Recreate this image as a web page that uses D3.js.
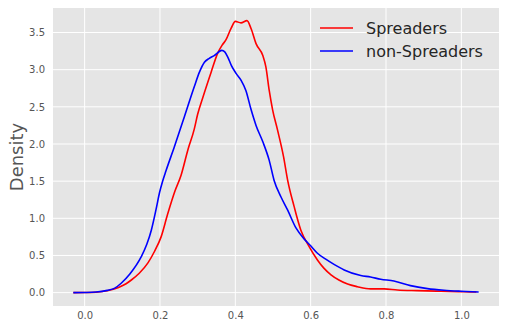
<!DOCTYPE html>
<html>
<head>
<meta charset="utf-8">
<script src="https://cdn.jsdelivr.net/npm/d3@7"></script>
<style>
  body { margin: 0; background: #fff; }
  text { font-family: "DejaVu Sans", sans-serif; }
</style>
</head>
<body>
<div id="chart"></div>
<script>
// density estimates, [value, density]
const spreaders = [
  [-0.03, 0], [0.0, 0.001], [0.03, 0.006], [0.06, 0.025], [0.09, 0.07], [0.11, 0.12],
  [0.124, 0.17], [0.145, 0.26], [0.168, 0.40], [0.185, 0.55], [0.203, 0.75], [0.22, 1.05],
  [0.24, 1.37], [0.256, 1.58], [0.274, 1.92], [0.291, 2.2], [0.30, 2.4], [0.314, 2.63],
  [0.336, 2.97], [0.353, 3.22], [0.365, 3.33], [0.375, 3.40], [0.389, 3.56], [0.40, 3.65],
  [0.415, 3.63], [0.431, 3.66], [0.442, 3.55], [0.455, 3.35], [0.473, 3.19], [0.481, 3.04],
  [0.490, 2.72], [0.499, 2.46], [0.512, 2.19], [0.528, 1.83], [0.539, 1.51], [0.556, 1.16],
  [0.574, 0.84], [0.596, 0.62], [0.618, 0.44], [0.635, 0.33], [0.654, 0.24], [0.675, 0.17],
  [0.698, 0.115], [0.724, 0.08], [0.759, 0.05], [0.795, 0.05], [0.83, 0.036], [0.883, 0.027],
  [0.945, 0.019], [1.006, 0.012], [1.04, 0.008]
]
const nonSpreaders = [
  [-0.03, 0], [0.0, 0.002], [0.03, 0.008], [0.06, 0.03], [0.08, 0.06], [0.097, 0.126],
  [0.12, 0.25], [0.15, 0.48], [0.165, 0.65], [0.177, 0.84], [0.19, 1.13], [0.199, 1.35],
  [0.207, 1.5], [0.216, 1.64], [0.238, 1.96], [0.265, 2.37], [0.291, 2.77], [0.305, 2.97],
  [0.318, 3.10], [0.33, 3.15], [0.344, 3.19], [0.364, 3.26], [0.372, 3.24], [0.380, 3.17],
  [0.390, 3.05], [0.402, 2.95], [0.415, 2.86], [0.428, 2.72], [0.442, 2.46], [0.455, 2.25],
  [0.473, 2.03], [0.490, 1.78], [0.503, 1.51], [0.521, 1.29], [0.539, 1.11], [0.561, 0.87],
  [0.583, 0.72], [0.60, 0.63], [0.618, 0.53], [0.640, 0.45], [0.662, 0.38], [0.689, 0.305],
  [0.733, 0.23], [0.759, 0.21], [0.786, 0.18], [0.821, 0.157], [0.865, 0.094], [0.91, 0.054],
  [0.954, 0.032], [0.998, 0.019], [1.046, 0.009]
]
const seriesNames = ["Spreaders", "non-Spreaders"]
const seriesColors = ["#ff0000", "#0000ff"]
const xTicks = [0.0, 0.2, 0.4, 0.6, 0.8, 1.0]
const yTicks = [0.0, 0.5, 1.0, 1.5, 2.0, 2.5, 3.0, 3.5]

let width = 505, height = 330
let margin = { left: 53, right: 6, top: 8, bottom: 24 }

let svg = d3.select("#chart")
    .append("svg")
    .attr("width", width)
    .attr("height", height)

let x = d3.scaleLinear().domain([-0.084, 1.100]).range([margin.left, width - margin.right])
let y = d3.scaleLinear().domain([-0.18, 3.83]).range([height - margin.bottom, margin.top])

//背景
svg.append("rect")
    .attr("x", margin.left)
    .attr("y", margin.top)
    .attr("width", width - margin.left - margin.right)
    .attr("height", height - margin.top - margin.bottom)
    .attr("fill", "#e5e5e5")

//网格线
let grid = svg.append("g")
grid.selectAll(".gx")
    .data(xTicks)
    .enter()
    .append("line")
    .attr("x1", d => x(d)).attr("x2", d => x(d))
    .attr("y1", margin.top).attr("y2", height - margin.bottom)
    .attr("stroke", "#fff")
    .attr("stroke-width", 1)
grid.selectAll(".gy")
    .data(yTicks)
    .enter()
    .append("line")
    .attr("y1", d => y(d)).attr("y2", d => y(d))
    .attr("x1", margin.left).attr("x2", width - margin.right)
    .attr("stroke", "#fff")
    .attr("stroke-width", 1)

//坐标轴
let xAxis = svg.append("g")
    .attr("transform", `translate(0,${height - margin.bottom})`)
    .call(d3.axisBottom(x).tickValues(xTicks).tickFormat(d3.format(".1f")).tickSize(0).tickPadding(6))
let yAxis = svg.append("g")
    .attr("transform", `translate(${margin.left},0)`)
    .call(d3.axisLeft(y).tickValues(yTicks).tickFormat(d3.format(".1f")).tickSize(0).tickPadding(8))
;[xAxis, yAxis].forEach(a => {
    a.select(".domain").remove()
    a.selectAll("text")
        .attr("font-size", 10)
        .attr("fill", "#555")
        .attr("font-family", "DejaVu Sans")
})

svg.append("text")
    .attr("transform", `translate(23,${(margin.top + height - margin.bottom) / 2}) rotate(-90)`)
    .attr("text-anchor", "middle")
    .attr("font-size", 18)
    .attr("fill", "#555")
    .text("Density")

//曲线
let line = d3.line()
    .x(d => x(d[0]))
    .y(d => y(d[1]))
    .curve(d3.curveMonotoneX)
let lines = [spreaders, nonSpreaders]
svg.append("g")
    .selectAll("path")
    .data(lines)
    .enter()
    .append("path")
    .attr("fill", "none")
    .attr("stroke", (d, i) => seriesColors[i])
    .attr("stroke-width", 1.6)
    .attr("d", line)

//图例
let legend = svg.append("g")
seriesNames.forEach((name, i) => {
    let ly = 28 + i * 23
    legend.append("line")
        .attr("x1", 320).attr("x2", 353)
        .attr("y1", ly).attr("y2", ly)
        .attr("stroke", seriesColors[i])
        .attr("stroke-width", 1.6)
    legend.append("text")
        .attr("x", 366)
        .attr("y", ly + 5.5)
        .attr("font-size", 16)
        .attr("fill", "#262626")
        .text(name)
})
</script>
</body>
</html>
